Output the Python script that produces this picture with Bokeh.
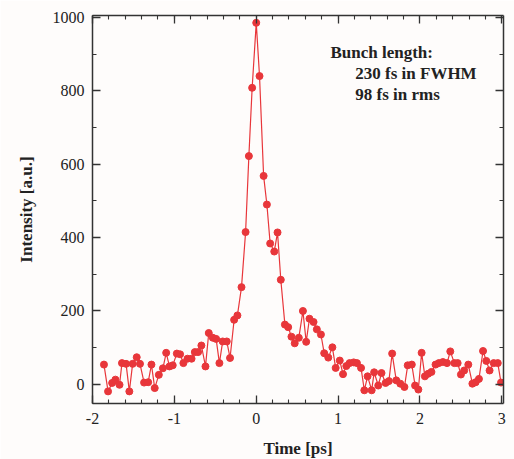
from bokeh.plotting import figure
from bokeh.models import (LinearAxis, Range1d, Label, SingleIntervalTicker,
                          CustomLabelingPolicy, PrintfTickFormatter)
from bokeh.embed import file_html
from bokeh.resources import INLINE

time_ps = [-1.86, -1.81, -1.76, -1.72, -1.67, -1.64, -1.59, -1.55, -1.51, -1.46,
           -1.42, -1.37, -1.32, -1.28, -1.24, -1.19, -1.14, -1.10, -1.06, -1.02,
           -0.97, -0.93, -0.89, -0.84, -0.79, -0.75, -0.71, -0.67, -0.62, -0.58,
           -0.53, -0.49, -0.45, -0.41, -0.36, -0.32, -0.27, -0.23, -0.18, -0.13,
           -0.09, -0.05, 0.00, 0.04, 0.09, 0.13, 0.17, 0.22, 0.26, 0.30,
           0.35, 0.39, 0.43, 0.47, 0.52, 0.57, 0.61, 0.65, 0.70, 0.74,
           0.79, 0.83, 0.88, 0.93, 0.97, 1.02, 1.06, 1.10, 1.14, 1.19,
           1.23, 1.28, 1.32, 1.36, 1.41, 1.44, 1.49, 1.53, 1.58, 1.62,
           1.66, 1.71, 1.76, 1.81, 1.85, 1.90, 1.94, 1.98, 2.02, 2.06,
           2.10, 2.14, 2.19, 2.23, 2.28, 2.33, 2.37, 2.42, 2.46, 2.50,
           2.54, 2.59, 2.64, 2.68, 2.72, 2.77, 2.81, 2.85, 2.90, 2.95,
           2.99]
intensity = [54, -19, 4, 13, -1, 58, 56, -19, 56, 74,
             56, 5, 6, 54, -10, 26, 44, 86, 49, 52,
             84, 82, 58, 70, 70, 88, 88, 106, 49, 140,
             127, 124, 58, 117, 117, 72, 176, 188, 265, 415,
             622, 808, 985, 840, 568, 490, 384, 362, 414, 285,
             163, 156, 130, 112, 127, 200, 116, 179, 170, 150,
             136, 85, 73, 101, 45, 65, 28, 50, 58, 60,
             58, 45, -16, 22, -16, 33, -3, 31, 4, 9,
             84, 11, 2, -7, 52, 54, -3, -14, 86, 22,
             29, 34, 54, 58, 61, 58, 90, 58, 58, 27,
             38, 54, 2, 6, 15, 91, 64, 38, 58, 58,
             5]
x_label = "Time [ps]"
y_label = "Intensity [a.u.]"
note_lines = ["Bunch length:", "230 fs in FWHM", "98 fs in rms"]

RED = "#e8363a"
AX = "#333333"
SERIF = "Liberation Serif"
BG = "#fefcfb"

p = figure(frame_width=411, frame_height=388,
           x_range=Range1d(-2, 3.02), y_range=Range1d(-52, 1005),
           output_backend="svg", toolbar_location=None,
           min_border_left=92, min_border_right=11, min_border_top=15,
           min_border_bottom=56,
           x_axis_label=x_label, y_axis_label=y_label,
           background_fill_color=BG, border_fill_color=BG)
p.outline_line_color = None
p.grid.visible = False


def style_axis(ax, ticker, show_labels):
    ax.ticker = ticker
    ax.axis_line_color = AX
    ax.axis_line_width = 1.5
    ax.major_tick_line_color = AX
    ax.minor_tick_line_color = AX
    ax.major_tick_line_width = 1.3
    ax.minor_tick_line_width = 1.1
    ax.major_tick_in = 8
    ax.major_tick_out = 0
    ax.minor_tick_in = 4
    ax.minor_tick_out = 0
    ax.major_label_text_font = SERIF
    ax.major_label_text_color = "#222222"
    ax.axis_label_text_font = SERIF
    ax.axis_label_text_font_style = "bold"
    ax.axis_label_text_color = "#222222"
    ax.axis_label_text_font_size = "17px"
    if show_labels:
        ax.major_label_text_font_size = "16px"
        ax.formatter = PrintfTickFormatter(format="%d")
    else:
        ax.major_label_text_font_size = "0px"
        ax.major_label_standoff = 0
        ax.major_label_policy = CustomLabelingPolicy(code="if (false) { yield 0 }")
        ax.axis_label = None


xt = lambda: SingleIntervalTicker(interval=1, num_minor_ticks=5)
yt = lambda: SingleIntervalTicker(interval=200, num_minor_ticks=2)

style_axis(p.xaxis[0], xt(), True)
style_axis(p.yaxis[0], yt(), True)
p.xaxis[0].major_label_standoff = 9
p.xaxis[0].axis_label_standoff = 12
p.yaxis[0].major_label_standoff = 8
p.yaxis[0].axis_label_standoff = 14

top = LinearAxis()
style_axis(top, xt(), False)
p.add_layout(top, "above")
right = LinearAxis()
style_axis(right, yt(), False)
p.add_layout(right, "right")

p.line(time_ps, intensity, line_color=RED, line_width=1.2)
p.scatter(time_ps, intensity, size=7, fill_color=RED, line_color=RED)

note_x = [0.906, 1.21, 1.21]
note_y = [905, 846, 790]
for tx, ty, t in zip(note_x, note_y, note_lines):
    p.add_layout(Label(x=tx, y=ty, text=t, text_font=SERIF,
                       text_font_style="bold", text_font_size="17px",
                       text_color="#222222", text_baseline="middle"))

open("out.html", "w").write(file_html(p, INLINE))
